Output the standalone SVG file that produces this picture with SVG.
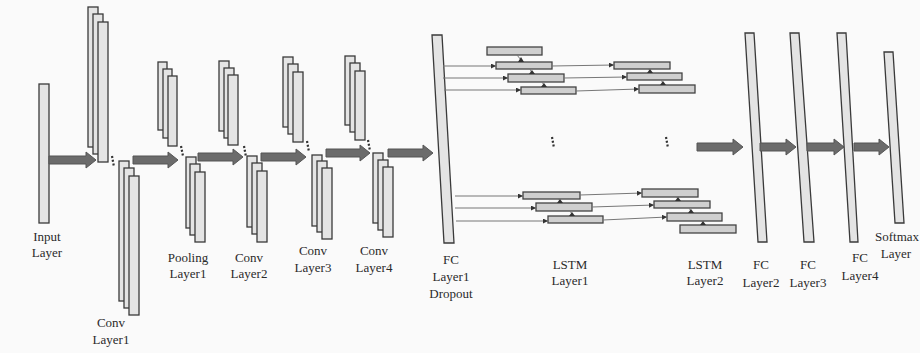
<svg xmlns="http://www.w3.org/2000/svg" width="920" height="353" viewBox="0 0 920 353">
<style>
.bg{fill:#fafafa}
.st rect{fill:#e4e4e4;stroke:#3a3a3a;stroke-width:1.3}
.fc{fill:#e4e4e4;stroke:#3a3a3a;stroke-width:1.3}
.arr{fill:#6b6b6b;stroke:#555;stroke-width:1}
.cell{fill:#cfcfcf;stroke:#444;stroke-width:1.3}
.ln{stroke:#777;stroke-width:1;fill:none}
.dots{stroke:#333;stroke-width:2.2;stroke-dasharray:2,1.8;fill:none}
.tri{fill:#333}
text{font-family:"Liberation Serif","Times New Roman",serif;font-size:13px;fill:#2a2a2a;text-anchor:middle}
</style>
<defs>
<marker id="mk" viewBox="0 0 6 6" refX="6" refY="3" markerWidth="5" markerHeight="5" orient="auto" markerUnits="userSpaceOnUse">
<path d="M0,0 L6,3 L0,6 z" fill="#333"/>
</marker>
</defs>
<rect class="bg" x="0" y="0" width="920" height="353"/>

<g id="input-layer">
<rect class="fc" x="39" y="84" width="10" height="139"/>
<text x="47" y="241">Input</text><text x="47" y="257">Layer</text>
</g>

<g id="conv-layer1">
<g class="st"><rect x="88" y="7" width="10" height="140"/><rect x="93" y="14" width="10" height="140"/><rect x="98" y="22" width="10" height="140"/></g>
<g class="st"><rect x="119" y="161" width="10" height="140"/><rect x="124" y="168" width="10" height="140"/><rect x="129" y="176" width="10" height="139"/></g>
<path class="dots" d="M112,156 L114,167"/>
<text x="111" y="327">Conv</text><text x="111" y="344">Layer1</text>
</g>

<g id="pooling-layer1">
<g class="st"><rect x="158" y="62" width="9" height="68"/><rect x="163" y="69" width="9" height="69"/><rect x="168" y="76" width="9" height="70"/></g>
<g class="st"><rect x="186" y="157" width="10" height="71"/><rect x="190" y="164" width="10" height="71"/><rect x="195" y="172" width="10" height="70"/></g>
<path class="dots" d="M181,146 L183,156"/>
<text x="188" y="262">Pooling</text><text x="188" y="278">Layer1</text>
</g>

<g id="conv-layer2">
<g class="st"><rect x="219" y="61" width="10" height="70"/><rect x="224" y="68" width="10" height="70"/><rect x="228" y="75" width="10" height="70"/></g>
<g class="st"><rect x="247" y="156" width="10" height="71"/><rect x="252" y="163" width="10" height="71"/><rect x="257" y="171" width="10" height="71"/></g>
<path class="dots" d="M244,146 L246,157"/>
<text x="249" y="262">Conv</text><text x="249" y="278">Layer2</text>
</g>

<g id="conv-layer3">
<g class="st"><rect x="283" y="57" width="10" height="70"/><rect x="288" y="64" width="10" height="70"/><rect x="293" y="72" width="10" height="70"/></g>
<g class="st"><rect x="312" y="155" width="10" height="71"/><rect x="317" y="161" width="10" height="71"/><rect x="322" y="168" width="10" height="71"/></g>
<path class="dots" d="M307,141 L309,152"/>
<text x="313" y="255">Conv</text><text x="313" y="272">Layer3</text>
</g>

<g id="conv-layer4">
<g class="st"><rect x="345" y="56" width="10" height="69"/><rect x="350" y="63" width="10" height="69"/><rect x="355" y="71" width="10" height="69"/></g>
<g class="st"><rect x="373" y="153" width="10" height="70"/><rect x="378" y="160" width="10" height="70"/><rect x="383" y="167" width="10" height="70"/></g>
<path class="dots" d="M368,140 L370,151"/>
<text x="374" y="255">Conv</text><text x="374" y="272">Layer4</text>
</g>

<g id="fc-layer1">
<polygon class="fc" points="432,35 442,35 454,243 444,243"/>
<text x="451" y="264">FC</text><text x="451" y="281">Layer1</text><text x="451" y="298">Dropout</text>
</g>

<g id="lstm-layer1">
<rect class="cell" x="487" y="47" width="55" height="8"/>
<rect class="cell" x="496" y="62" width="56" height="7"/>
<rect class="cell" x="508" y="74" width="56" height="8"/>
<rect class="cell" x="521" y="87" width="55" height="7"/>
<rect class="cell" x="523" y="192" width="57" height="7"/>
<rect class="cell" x="536" y="203" width="56" height="8"/>
<rect class="cell" x="548" y="216" width="55" height="7"/>
<path class="dots" d="M552,137 L554,148"/>
<text x="570" y="269">LSTM</text><text x="570" y="285">Layer1</text>
</g>

<g id="lstm-layer2">
<rect class="cell" x="614" y="62" width="56" height="7"/>
<rect class="cell" x="627" y="73" width="55" height="7"/>
<rect class="cell" x="639" y="85" width="56" height="8"/>
<rect class="cell" x="642" y="189" width="56" height="8"/>
<rect class="cell" x="654" y="201" width="56" height="7"/>
<rect class="cell" x="667" y="213" width="55" height="8"/>
<rect class="cell" x="680" y="225" width="56" height="8"/>
<path class="dots" d="M666,137 L668,148"/>
<text x="705" y="269">LSTM</text><text x="705" y="285">Layer2</text>
</g>

<g id="fc-layer2">
<polygon class="fc" points="745,33 754,33 767,242 758,242"/>
<text x="761" y="269">FC</text><text x="761" y="287">Layer2</text>
</g>
<g id="fc-layer3">
<polygon class="fc" points="790,33 799,33 814,242 804,242"/>
<text x="808" y="269">FC</text><text x="808" y="287">Layer3</text>
</g>
<g id="fc-layer4">
<polygon class="fc" points="837,33 846,33 858,242 850,242"/>
<text x="860" y="262">FC</text><text x="860" y="280">Layer4</text>
</g>
<g id="softmax-layer">
<polygon class="fc" points="884,52 893,52 904,223 895,223"/>
<text x="875" y="241" style="text-anchor:start">Softmax</text><text x="896" y="258">Layer</text>
</g>

<g id="connectors">
<path class="arr" d="M49,156 H86 V152 L96,160 L86,168 V164 H49 Z"/>
<path class="arr" d="M133,156 H168 V152 L178,160 L168,168 V164 H133 Z"/>
<path class="arr" d="M198,153 H233 V149 L243,157 L233,165 V161 H198 Z"/>
<path class="arr" d="M261,153 H296 V149 L306,157 L296,165 V161 H261 Z"/>
<path class="arr" d="M326,149 H360 V145 L370,153 L360,161 V157 H326 Z"/>
<path class="arr" d="M388,149 H423 V145 L433,153 L423,161 V157 H388 Z"/>
<path class="arr" d="M697,143 H733 V139 L743,147 L733,155 V151 H697 Z"/>
<path class="arr" d="M760,143 H786 V139 L796,147 L786,155 V151 H760 Z"/>
<path class="arr" d="M807,143 H834 V139 L844,147 L834,155 V151 H807 Z"/>
<path class="arr" d="M854,143 H879 V139 L889,147 L879,155 V151 H854 Z"/>

<path class="ln" marker-end="url(#mk)" d="M443,66 H496"/>
<path class="ln" marker-end="url(#mk)" d="M443,78 H508"/>
<path class="ln" marker-end="url(#mk)" d="M444,90 H521"/>
<path class="ln" marker-end="url(#mk)" d="M552,66 L614,65"/>
<path class="ln" marker-end="url(#mk)" d="M564,78 L627,77"/>
<path class="ln" marker-end="url(#mk)" d="M576,91 L639,89"/>
<path class="ln" marker-end="url(#mk)" d="M455,196 H523"/>
<path class="ln" marker-end="url(#mk)" d="M455,208 H536"/>
<path class="ln" marker-end="url(#mk)" d="M456,221 H548"/>
<path class="ln" marker-end="url(#mk)" d="M580,195 L642,193"/>
<path class="ln" marker-end="url(#mk)" d="M592,207 L654,205"/>
<path class="ln" marker-end="url(#mk)" d="M603,220 L667,217"/>

<g class="tri">
<path class="ln" d="M517,55 L521,60"/><polygon points="518,62 521,57 524,62"/>
<path class="ln" d="M530,69 L532,73"/><polygon points="529,74 532,70 535,74"/>
<path class="ln" d="M542,82 L544,85"/><polygon points="541,87 544,83 547,87"/>
<path class="ln" d="M648,69 L650,71"/><polygon points="647,73 650,69 653,73"/>
<path class="ln" d="M661,80 L663,83"/><polygon points="660,85 663,81 666,85"/>
<path class="ln" d="M558,199 L560,201"/><polygon points="557,203 560,199 563,203"/>
<path class="ln" d="M570,211 L572,214"/><polygon points="569,216 572,212 575,216"/>
<path class="ln" d="M676,197 L678,199"/><polygon points="675,201 678,197 681,201"/>
<path class="ln" d="M689,208 L691,211"/><polygon points="688,213 691,209 694,213"/>
<path class="ln" d="M701,221 L703,223"/><polygon points="700,225 703,221 706,225"/>
</g>
</g>
</svg>
